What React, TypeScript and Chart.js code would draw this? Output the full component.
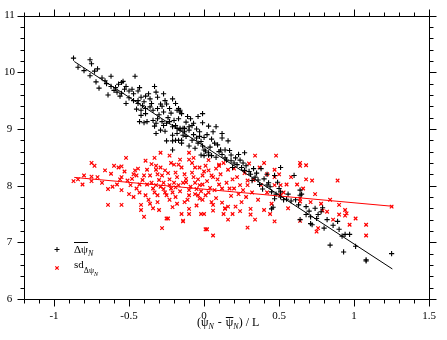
import React, { useEffect, useRef } from 'react';
import { Chart, registerables } from 'chart.js';

Chart.register(...registerables);

// ---- data ----
const meanPoints: [number, number][] = [
  [-0.87,10.25],[-0.76,10.22],[-0.75,10.15],[-0.84,10.09],[-0.80,10.03],[-0.73,10.02],[-0.71,10.06],[-0.76,9.94],[-0.62,9.93],[-0.46,9.93],[-0.72,9.83],[-0.70,9.72],[-0.65,9.80],[-0.64,9.60],
  [-0.59,9.73],[-0.57,9.79],[-0.55,9.82],[-0.54,9.84],[-0.52,9.75],[-0.58,9.65],[-0.56,9.58],[-0.55,9.63],[-0.50,9.67],[-0.47,9.62],[-0.44,9.67],[-0.43,9.73],[-0.42,9.56],[-0.39,9.58],[-0.36,9.53],[-0.33,9.75],[-0.32,9.65],[-0.31,9.56],[-0.27,9.62],[-0.21,9.53],[-0.47,9.50],[-0.44,9.50],[-0.41,9.41],[-0.39,9.36],[-0.42,9.33],[-0.42,9.24],[-0.39,9.27],[-0.36,9.39],[-0.34,9.33],[-0.31,9.36],[-0.29,9.44],[-0.27,9.30],[-0.25,9.44],[-0.23,9.36],[-0.18,9.33],[-0.16,9.30],[-0.15,9.27],[-0.43,9.13],[-0.40,9.11],[-0.38,9.13],[-0.34,9.15],[-0.32,9.10],[-0.31,9.18],[-0.28,9.13],[-0.27,9.06],[-0.25,9.10],[-0.23,9.13],[-0.21,9.04],[-0.19,9.06],[-0.18,9.01],[-0.16,8.98],[-0.13,9.01],[-0.32,8.92],[-0.29,8.98],[-0.26,8.96],[-0.21,8.89],[-0.18,8.92],[-0.14,8.89],[-0.25,8.79],[-0.21,8.79],[-0.19,8.80],[-0.15,8.80],[-0.21,8.63],
  [-0.17,9.36],[-0.16,9.33],[-0.17,9.18],[-0.16,9.01],[-0.14,9.01],[-0.10,9.04],[-0.10,8.98],[-0.08,9.06],[-0.01,9.27],[-0.01,9.11],[0.08,9.04],[-0.12,8.87],[-0.08,8.80],[-0.05,8.84],[-0.03,8.87],[-0.04,8.75],[-0.10,8.70],[-0.06,8.66],[-0.01,8.70],[0.0,8.63],[0.01,8.61],[0.03,8.54],[0.03,8.58],[0.05,8.53],[0.0,8.53],[-0.02,8.54],[0.12,8.92],[0.12,8.84],[0.16,8.79],[0.09,8.72],[0.11,8.63],[0.14,8.63],[0.14,8.49],[0.18,8.54],[0.21,8.49],[0.18,8.44],[0.22,8.37],[0.19,8.32],[0.27,8.58],[0.25,8.32],[0.27,8.27],[0.31,8.20],[0.34,8.15],[0.32,8.09],[0.37,8.02],[0.39,7.94],[0.42,8.01],[0.45,7.89],[0.48,7.85],[0.47,7.77],[0.51,7.80],[0.53,7.75],[0.42,8.20],[0.45,7.59],[0.64,7.92],[0.65,7.85],[-0.17,8.80],[-0.15,8.75],
  [0.47,8.18],[0.51,8.32],[0.49,8.06],[0.51,7.89],[0.60,8.18],[0.64,7.83],[0.61,7.75],[0.63,7.66],[0.64,7.40],[0.68,7.63],[0.68,7.49],[0.71,7.45],[0.72,7.31],[0.75,7.42],[0.76,7.49],[0.78,7.54],[0.79,7.61],[0.82,7.40],[0.89,7.37],[0.90,7.23],[0.92,7.11],[0.94,7.14],[0.97,7.14],[0.84,6.95],[0.93,6.83],[1.01,6.93],[1.08,6.69],[1.08,6.67],[1.25,6.80],[0.58,7.73],[0.55,7.76],[0.46,7.62],[0.71,7.33],
  [-0.30,9.25],[-0.24,9.20],[-0.20,9.15],[-0.12,9.12],[-0.09,9.18],[-0.05,9.00],[-0.03,8.95],[0.02,8.90],[0.05,8.82],[0.07,8.75],[-0.07,8.90],[-0.13,8.95],[0.00,8.85],[0.04,8.68],[0.10,8.60],[0.15,8.45],[0.20,8.40],[0.24,8.45],[0.28,8.35],[0.30,8.25],[0.33,8.30],[0.36,8.10],[0.40,8.12],[0.43,8.05],[-0.35,9.45],[-0.28,9.40],[-0.44,9.45],[-0.50,9.55],[-0.53,9.70],[-0.60,9.68],[-0.66,9.85],[-0.68,9.90],
  [-0.62,9.75],[-0.48,9.70],[-0.40,9.48],[-0.37,9.62],[-0.26,9.50],[-0.22,9.28],[-0.19,9.45],[-0.11,9.22],[-0.07,9.10],[-0.04,9.22],[0.03,9.05],[0.06,8.95],[-0.02,8.78],[0.08,8.50],[0.12,8.55],[0.17,8.62],[0.23,8.55],[0.26,8.40],[0.35,8.22],[0.38,8.30],[0.44,7.98],[0.50,7.95],[0.56,7.85],[0.70,7.55],[0.74,7.60],[0.86,7.30],[0.80,7.25],[-0.33,9.05],[-0.45,9.35],[-0.52,9.45],
];

const sdPoints: [number, number][] = [
  [-0.87,8.08],[-0.84,8.11],[-0.81,8.02],[-0.75,8.40],[-0.73,8.35],[-0.75,8.16],[-0.75,8.08],[-0.71,8.15],[-0.66,8.27],[-0.64,7.94],[-0.64,7.66],[-0.62,8.21],[-0.60,8.35],[-0.57,8.32],[-0.55,8.34],[-0.58,8.02],[-0.56,8.11],[-0.55,8.15],[-0.55,7.92],[-0.52,8.49],[-0.51,8.09],[-0.49,8.01],[-0.50,7.85],[-0.55,7.66],[-0.47,8.20],[-0.46,8.27],[-0.44,8.30],[-0.45,8.18],[-0.43,8.02],[-0.43,7.88],[-0.42,7.66],[-0.42,7.57],[-0.40,7.45],[-0.39,8.44],[-0.38,8.28],[-0.40,8.18],[-0.36,8.18],[-0.38,8.02],[-0.39,7.83],[-0.36,7.68],[-0.33,8.49],[-0.32,8.35],[-0.32,8.28],[-0.31,8.20],[-0.32,8.01],[-0.33,7.88],[-0.31,7.83],[-0.31,7.71],[-0.30,7.57],[-0.29,8.58],[-0.29,8.32],[-0.28,8.18],[-0.27,7.94],[-0.26,7.88],[-0.26,8.27],[-0.23,8.11],[-0.23,8.53],[-0.25,7.83],[-0.23,7.75],[-0.25,7.42],[-0.28,7.25],[-0.21,7.88],[-0.20,8.37],[-0.19,8.23],[-0.18,8.15],[-0.17,8.01],[-0.18,7.68],[-0.16,8.46],[-0.15,8.32],[-0.15,7.50],[-0.14,7.37],[-0.13,8.20],[-0.13,7.71],[-0.23,8.01],[-0.19,7.97],
  [-0.10,8.46],[-0.06,8.32],[-0.08,8.23],[-0.07,8.15],[-0.04,8.11],[-0.01,8.18],[0.01,8.35],[0.03,8.27],[0.05,8.18],[0.06,8.15],[0.09,8.11],[0.10,8.02],[-0.01,8.02],[-0.03,8.01],[-0.05,7.94],[-0.10,7.92],[-0.10,7.83],[-0.04,7.83],[-0.03,7.77],[-0.01,7.75],[0.01,7.83],[0.03,7.88],[0.05,7.71],[-0.10,7.59],[-0.10,7.50],[-0.02,7.50],[0.0,7.50],[0.06,7.56],[0.13,7.50],[0.16,7.40],[0.14,7.59],[0.19,7.50],[0.16,7.63],[0.21,7.63],[0.25,7.71],[0.31,7.59],[0.31,7.49],[0.34,7.40],[0.29,7.26],[0.40,7.57],[0.47,7.37],[0.45,7.68],[0.01,7.23],[0.06,7.12],[0.10,8.35],[0.13,8.40],[0.16,8.28],[0.19,8.11],[0.22,8.15],[0.24,8.01],[0.26,7.92],[0.23,7.85],[0.29,8.09],[0.29,8.01],[0.32,7.88],[0.34,8.53],[0.37,8.32],[0.42,8.20],[0.47,8.15],[0.38,8.01],[0.42,7.88],[0.47,8.01],[0.51,7.83],[0.48,8.53],[0.64,8.40],[0.64,8.35],[0.68,8.11],[0.62,8.02],[0.71,7.71],[0.55,8.02],
  [0.68,8.36],[0.72,8.09],[0.89,8.09],[0.53,7.88],[0.64,7.77],[0.64,7.72],[0.78,7.68],[0.84,7.75],[0.90,7.66],[0.90,7.49],[0.94,7.57],[0.94,7.47],[0.95,7.51],[0.79,7.56],[0.82,7.54],[0.64,7.38],[0.76,7.25],[0.75,7.19],[0.97,7.31],[1.01,7.42],[1.08,7.31],[1.08,7.12],[1.25,7.63],[0.47,8.28],[0.51,8.01],
  [0.30,8.39],[-0.17,8.37],[-0.10,8.58],[-0.07,8.49],[-0.03,8.32],[0.10,8.37],[-0.12,8.06],[0.06,7.66],[0.14,7.60],[0.02,7.23],[-0.14,7.38],[-0.24,7.42],
  [-0.35,8.05],[-0.34,7.95],[-0.30,8.10],[-0.27,8.05],[-0.22,7.95],[-0.20,8.05],[-0.16,7.90],[-0.12,8.12],[-0.09,7.98],[-0.06,8.05],[-0.02,7.90],[0.02,8.08],[0.04,7.96],[0.07,7.92],[0.12,7.95],[0.15,8.05],[0.18,7.82],[0.20,7.95],[-0.45,7.95],[-0.48,8.12],[-0.37,7.75],[-0.21,7.62],[-0.05,7.65],[0.08,7.78],[0.11,8.20],[0.27,8.22],
  [-0.80,8.18],[-0.68,8.05],[-0.61,7.98],[-0.53,8.25],[-0.47,7.80],[-0.41,8.10],[-0.35,8.38],[-0.34,7.60],[-0.29,7.98],[-0.24,8.22],[-0.22,8.40],[-0.19,7.80],[-0.14,8.05],[-0.11,7.75],[-0.08,8.40],[-0.06,7.85],[0.00,8.25],[0.03,8.45],[0.08,8.30],[0.12,7.70],[0.17,7.95],[0.20,8.30],[0.24,7.55],[0.28,7.80],[0.33,8.10],[0.36,7.75],[0.40,8.40],[0.44,7.50],[0.50,8.20],[0.56,7.60],[0.58,8.15],[0.66,7.95],[0.74,7.85],[0.86,7.40],
];

const meanFitX = [-0.865, 1.255];
const meanFitY = [10.19, 6.53];
const sdFitX = [-0.865, 1.26];
const sdFitY = [8.145, 7.635];

const xTickLabels = ['-1', '-0.5', '0', '0.5', '1', '1.5'];
const yTickLabels = ['6', '7', '8', '9', '10', '11'];

const SERIF = '"Liberation Serif", "DejaVu Serif", serif';

function labelFor(labels: string[], v: number): string {
  const l = labels.find((s) => Math.abs(Number(s) - v) < 1e-6);
  return l === undefined ? '' : l;
}

type Run = { text: string; size: number; dy: number; italic?: boolean; overline?: number };

function drawRuns(ctx: CanvasRenderingContext2D, x: number, baseline: number, runs: Run[]) {
  let cx = x;
  for (const r of runs) {
    ctx.font = `${r.italic ? 'italic ' : ''}${r.size}px ${SERIF}`;
    ctx.fillText(r.text, cx, baseline + r.dy);
    const w = ctx.measureText(r.text).width;
    if (r.overline) {
      const oy = Math.round(baseline + r.dy - r.overline) + 0.5;
      ctx.beginPath();
      ctx.moveTo(cx, oy);
      ctx.lineTo(cx + w, oy);
      ctx.stroke();
    }
    cx += w;
  }
}

const framePlugin = {
  id: 'frameTicks',
  afterDraw(chart: any) {
    const { ctx, chartArea, scales } = chart;
    const xs = scales.x;
    const ys = scales.y;
    const L = Math.round(chartArea.left) + 0.5;
    const R = Math.round(chartArea.right) + 0.5;
    const T = Math.round(chartArea.top) + 0.5;
    const B = Math.round(chartArea.bottom) + 0.5;
    ctx.save();
    ctx.strokeStyle = '#000';
    ctx.fillStyle = '#000';
    ctx.lineWidth = 1;
    ctx.beginPath();
    ctx.rect(L, T, R - L, B - T);
    xs.ticks.forEach((t: any) => {
      const px = Math.round(xs.getPixelForValue(t.value)) + 0.5;
      const len = labelFor(xTickLabels, t.value) ? 7 : 4;
      ctx.moveTo(px, B);
      ctx.lineTo(px, B + len);
      ctx.moveTo(px, T);
      ctx.lineTo(px, T - len);
    });
    ys.ticks.forEach((t: any) => {
      const py = Math.round(ys.getPixelForValue(t.value)) + 0.5;
      const len = labelFor(yTickLabels, t.value) ? 7 : 4;
      ctx.moveTo(L, py);
      ctx.lineTo(L - len, py);
      ctx.moveTo(R, py);
      ctx.lineTo(R + len, py);
    });
    ctx.stroke();

    // axis title
    ctx.textAlign = 'left';
    ctx.textBaseline = 'alphabetic';
    drawRuns(ctx, 197, 326, [
      { text: '(\u03C8', size: 12, dy: 0 },
      { text: 'N', size: 8, dy: 3, italic: true },
      { text: ' \u200A- \u200A', size: 12, dy: 0 },
      { text: '\u03C8', size: 12, dy: 0, overline: 9 },
      { text: 'N', size: 8, dy: 3, italic: true },
      { text: ') / L', size: 12, dy: 0 },
    ]);

    // legend
    ctx.beginPath();
    ctx.moveTo(54.5, 249.5); ctx.lineTo(59.5, 249.5);
    ctx.moveTo(57, 247); ctx.lineTo(57, 252);
    ctx.stroke();
    drawRuns(ctx, 74, 253, [
      { text: '\u0394\u03C8', size: 11, dy: 0, overline: 11 },
      { text: 'N', size: 8, dy: 3, italic: true },
    ]);
    ctx.strokeStyle = '#ff0000';
    ctx.lineWidth = 1.2;
    ctx.beginPath();
    ctx.moveTo(55.3, 266.3); ctx.lineTo(58.7, 269.7);
    ctx.moveTo(58.7, 266.3); ctx.lineTo(55.3, 269.7);
    ctx.stroke();
    ctx.lineWidth = 1;
    ctx.fillStyle = '#000';
    ctx.strokeStyle = '#000';
    drawRuns(ctx, 74, 268, [
      { text: 'sd', size: 11, dy: 0 },
      { text: '\u0394\u03C8', size: 8, dy: 5 },
      { text: 'N', size: 6, dy: 8, italic: true },
    ]);
    ctx.restore();
  },
};

export default function App() {
  const ref = useRef<HTMLCanvasElement | null>(null);

  useEffect(() => {
    if (!ref.current) return;
    const chart = new Chart(ref.current, {
      type: 'scatter',
      data: {
        datasets: [
          {
            label: 'mean fit',
            data: meanFitX.map((x, i) => ({ x, y: meanFitY[i] })),
            showLine: true,
            borderColor: '#000',
            borderWidth: 1,
            pointRadius: 0,
            order: 0,
          },
          {
            label: 'sd fit',
            data: sdFitX.map((x, i) => ({ x, y: sdFitY[i] })),
            showLine: true,
            borderColor: '#ff0000',
            borderWidth: 1,
            pointRadius: 0,
            order: 1,
          },
          {
            label: 'mean',
            data: meanPoints.map(([x, y]) => ({ x, y })),
            pointStyle: 'cross',
            pointRadius: 2.6,
            borderColor: '#000',
            backgroundColor: '#000',
            borderWidth: 1.1,
            order: 2,
          },
          {
            label: 'sd',
            data: sdPoints.map(([x, y]) => ({ x, y })),
            pointStyle: 'crossRot',
            pointRadius: 2.5,
            borderColor: '#ff0000',
            backgroundColor: '#ff0000',
            borderWidth: 1.2,
            order: 3,
          },
        ],
      },
      options: {
        animation: false,
        responsive: false,
        devicePixelRatio: 1,
        events: [],
        layout: { padding: { left: 0, right: 10, top: 10, bottom: 0 } },
        plugins: { legend: { display: false }, tooltip: { enabled: false } },
        scales: {
          x: {
            type: 'linear',
            min: -1.2,
            max: 1.5,
            grid: { display: false, drawTicks: false },
            border: { display: false },
            afterFit: (s: any) => { s.height = 41; },
            ticks: {
              stepSize: 0.1,
              maxTicksLimit: 100,
              autoSkip: false,
              maxRotation: 0,
              padding: 11,
              color: '#000',
              font: { family: SERIF, size: 11 },
              callback: (v: any) => labelFor(xTickLabels, Number(v)),
            },
          },
          y: {
            type: 'linear',
            min: 6,
            max: 11,
            grid: { display: false, drawTicks: false },
            border: { display: false },
            afterFit: (s: any) => { s.width = 24; },
            ticks: {
              stepSize: 0.2,
              maxTicksLimit: 100,
              autoSkip: false,
              crossAlign: 'center',
              padding: 9,
              color: '#000',
              font: { family: SERIF, size: 11 },
              callback: (v: any) => labelFor(yTickLabels, Number(v)),
            },
          },
        },
      },
      plugins: [framePlugin],
    } as any);
    return () => chart.destroy();
  }, []);

  return (
    <div style={{ position: 'fixed', left: 0, top: 0, width: 447, height: 340, background: '#fff' }}>
      <canvas ref={ref} width={447} height={340} style={{ display: 'block' }} />
    </div>
  );
}
